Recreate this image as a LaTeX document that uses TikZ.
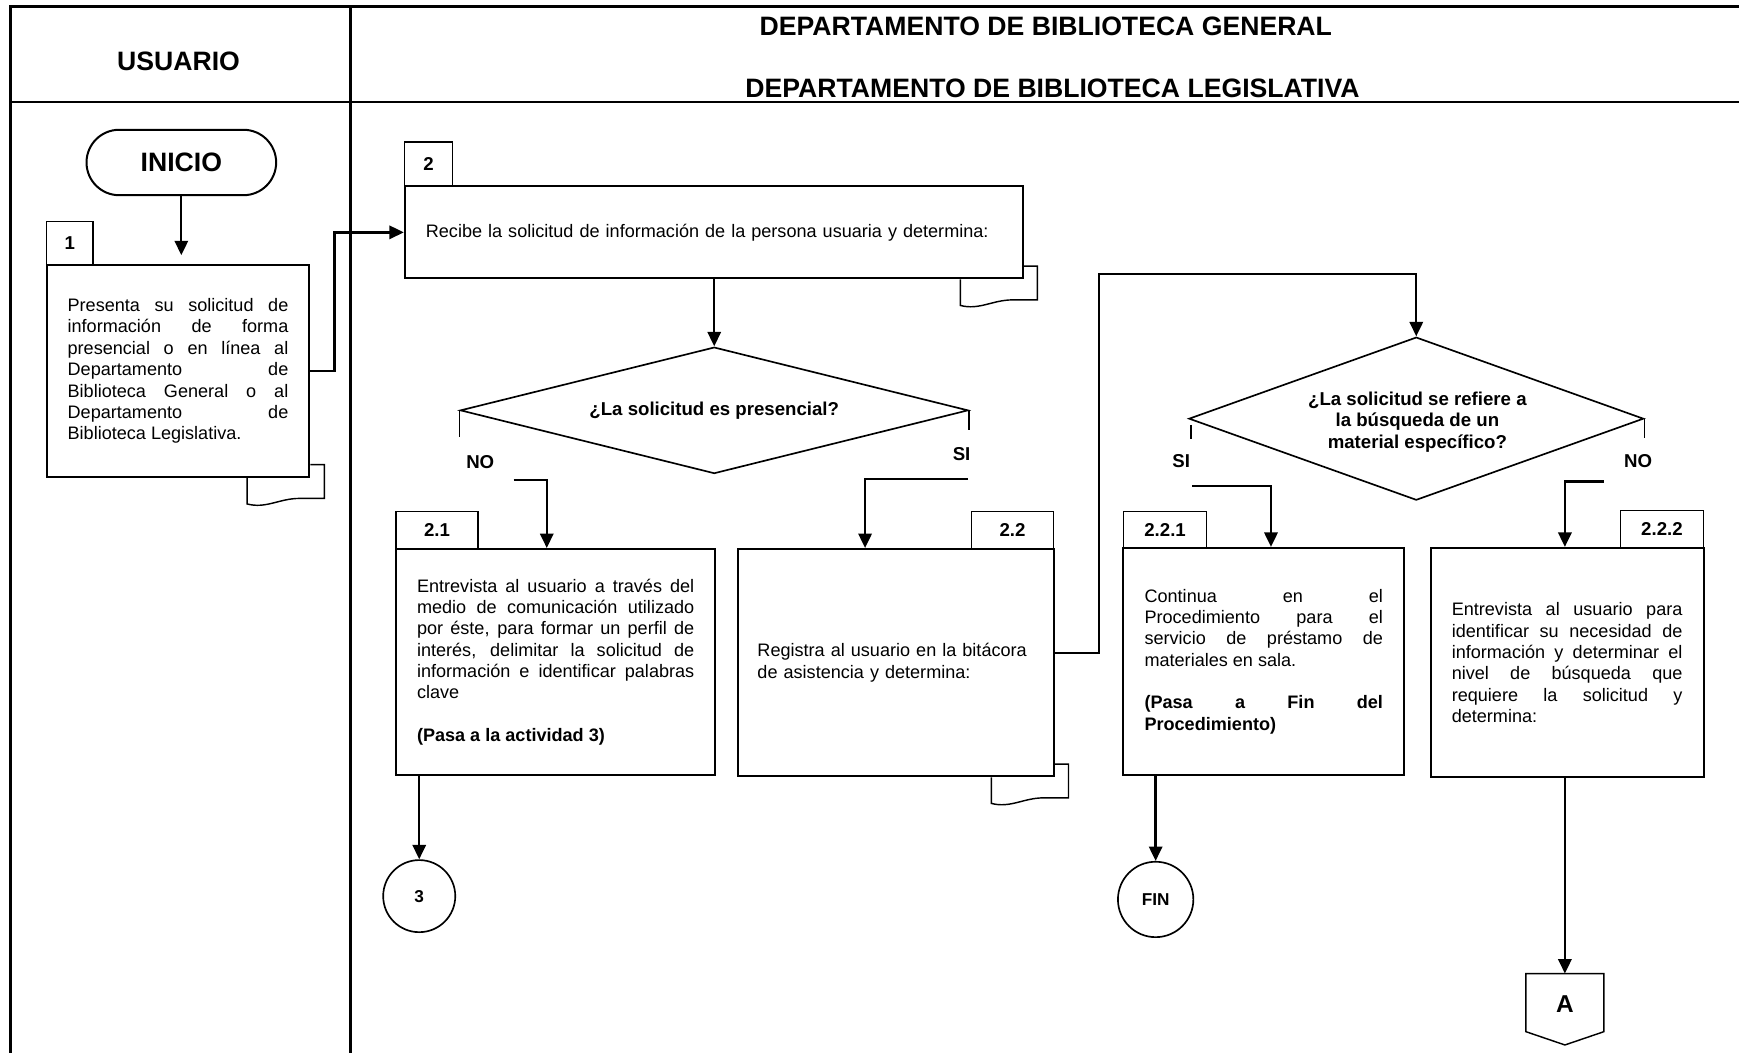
\documentclass[tikz,border=0pt]{standalone}
\usepackage{fontspec}
\setmainfont{Liberation Sans}
\usetikzlibrary{arrows.meta,shapes.geometric,shapes.misc,calc}
\setlength{\parindent}{0pt}
\newcommand\fbody{\fontsize{16.3}{19.25}\selectfont\tolerance=10000\hbadness=10000\hyphenpenalty=10000\exhyphenpenalty=10000}
\newcommand\fbodyb{\fontsize{16.8}{19.25}\selectfont\bfseries}
\newcommand\fhead{\fontsize{24}{28}\selectfont\bfseries}
\newcommand\doctail[1]{%
  \draw[tailline] ($(#1.south east)+(0,-12)$) -- ($(#1.south east)+(12.5,-12)$)
    -- ($(#1.south east)+(12.5,18.5)$) -- ($(#1.south east)+(-10,18.5)$)
    .. controls ($(#1.south east)+(-28,18.5)$) and ($(#1.south east)+(-40,28)$) .. ($(#1.south east)+(-57,23.5)$)
    -- ($(#1.south east)+(-57,0)$);}
\begin{document}
\begin{tikzpicture}[x=1pt,y=-1pt,
  border/.style={line width=2.6pt},
  box/.style={draw, line width=1.8pt, inner xsep=19pt, inner ysep=0pt, align=justify, font=\fbody},
  tabbox/.style={draw, line width=1.2pt, inner sep=0pt, font=\fbodyb},
  arr/.style={line width=2.1pt, -{Triangle[length=13pt,width=12pt]}},
  decision/.style={diamond, draw, line width=1.5pt, inner sep=0pt},
  tick/.style={line width=1.6pt},
  tailline/.style={line width=1.3pt},
  lbl/.style={font=\fbodyb, inner sep=0pt},
  conn/.style={circle, draw, line width=1.5pt, inner sep=0pt, font=\fontsize{15.5}{18}\selectfont\bfseries}]
\useasboundingbox (0,0) rectangle (1568,948.6);

% table frame
\draw[border] (9.5,952) -- (9.5,5.5) -- (1572,5.5);
\draw[border] (9.5,92) -- (1572,92);
\draw[border] (316,5.5) -- (316,952);

% headers
\node[font=\fhead] (hu) at (161,55) {USUARIO};
\node[font=\fhead] (hg) at (943,24) {DEPARTAMENTO DE BIBLIOTECA GENERAL};
\node[font=\fhead] (hl) at (949,79.5) {DEPARTAMENTO DE BIBLIOTECA LEGISLATIVA};

% start
\node[rounded rectangle, draw, line width=1.8pt, minimum width=171pt, minimum height=59pt, inner sep=0pt,
      font=\fontsize{24}{28}\selectfont\bfseries] (ini) at (163.5,146.5) {INICIO};

% tabs
\node[tabbox, minimum width=42pt, minimum height=39pt] (t1) at (63,219.5) {1};
\node[tabbox, minimum width=43pt, minimum height=40pt] (t2) at (386.5,148) {2};
\node[tabbox, minimum width=74pt, minimum height=34pt] (t21) at (394,478) {2.1};
\node[tabbox, minimum width=74pt, minimum height=34pt] (t22) at (913,478) {2.2};
\node[tabbox, minimum width=75pt, minimum height=33pt] (t221) at (1050.5,477.5) {2.2.1};
\node[tabbox, minimum width=75pt, minimum height=34pt] (t222) at (1498.5,477) {2.2.2};

% activity boxes
\node[box, text width=199pt, minimum height=191pt] (b1) at (160.5,334.5)
  {Presenta su solicitud de\linebreak información de forma\linebreak presencial o en línea al\linebreak Departamento de\linebreak Biblioteca General o al\linebreak Departamento de\linebreak Biblioteca Legislativa.};
\node[box, align=left, text width=519pt, minimum height=83pt] (b2) at (643.5,209.5)
  {Recibe la solicitud de información de la persona usuaria y determina:};
\node[box, text width=250pt, minimum height=204pt] (b21) at (501,597)
  {Entrevista al usuario a través del\linebreak medio de comunicación utilizado\linebreak por éste, para formar un perfil de\linebreak interés, delimitar la solicitud de\linebreak información e identificar palabras\linebreak clave\par\vspace{19.25pt}\textbf{(Pasa a la actividad 3)}};
\node[box, align=left, inner xsep=18pt, text width=249pt, minimum height=205pt] (b22) at (807.5,597.5)
  {Registra al usuario en la bitácora\\de asistencia y determina:};
\node[box, text width=215pt, minimum height=205pt] (b221) at (1139.5,596.5)
  {Continua en el\linebreak Procedimiento para el\linebreak servicio de préstamo de\linebreak materiales en sala.\par\vspace{19.25pt}\textbf{(Pasa a Fin del\linebreak Procedimiento)}};
\node[box, text width=208pt, minimum height=207pt] (b222) at (1413,597.5)
  {Entrevista al usuario para\linebreak identificar su necesidad de\linebreak información y determinar el\linebreak nivel de búsqueda que\linebreak requiere la solicitud y\linebreak determina:};

% document marks
\doctail{b1}
\doctail{b2}
\doctail{b22}

% decisions
\node[decision, minimum width=458pt, minimum height=114pt] (d1) at (644,370) {};
\node[font=\fbodyb] (d1t) at (d1.center) {¿La solicitud es presencial?};
\node[decision, minimum width=410pt, minimum height=147pt] (d2) at (1277,377.5) {};
\node[font=\fbodyb, align=center, inner sep=0pt] (d2t) at (1278,380.5)
  {\fontsize{16.8}{18.5}\selectfont ¿La solicitud se refiere a\\la búsqueda de un\\material específico?};

% ticks and branch labels
\draw[tick] (d1.west) -- ++(0,24);
\draw[tick] (d1.east) -- ++(0,18);
\coordinate (d2lt) at (1074,383);
\draw[tick] (d2lt) -- ++(0,13);
\draw[tick] (d2.east) -- ++(0,17);
\node[lbl] (no1) at (433,417) {NO};
\node[lbl] (si1) at (867,409) {SI};
\node[lbl] (si2) at (1065,416) {SI};
\node[lbl] (no2) at (1477,416) {NO};

% connectors / terminals
\node[conn, minimum size=65pt] (c3) at (378,808) {3};
\node[conn, minimum size=68pt] (fin) at (1042,811) {FIN};
\node[inner sep=0pt, minimum width=70pt, minimum height=64pt] (offA) at (1411,910) {};
\draw[line width=1.3pt] (offA.north west) -- (offA.north east) -- ($(offA.south east)+(0,-12)$)
  -- (offA.south) -- ($(offA.south west)+(0,-12)$) -- cycle;
\node[font=\fontsize{22}{26}\selectfont\bfseries] (offAt) at (1411,905) {A};

% arrows
\draw[arr, shorten >=8pt] (ini.south) -- (ini.south |- b1.north);
\draw[arr] (b1.east) -- ++(21.6,0) |- (b2.west);
\draw[arr] (b2.south -| d1.north) -- (d1.north);
\coordinate (no1s) at (463,433); \coordinate (no1k) at (493,433);
\draw[arr] (no1s) -- (no1k) -- (no1k |- b21.north);
\coordinate (si1s) at (873,432); \coordinate (si1k) at (780,432);
\draw[arr] (si1s) -- (si1k) -- (si1k |- b22.north);
\coordinate (si2s) at (1075,438); \coordinate (si2k) at (1146,438);
\draw[arr] (si2s) -- (si2k) -- (si2k |- b221.north);
\coordinate (no2s) at (1446,434); \coordinate (no2k) at (1411,434);
\draw[arr] (no2s) -- (no2k) -- (no2k |- b222.north);
\coordinate (y589) at (0,589);
\coordinate (loop) at (991,247);
\draw[arr] (b22.east |- y589) -| (loop) -| (d2.north);
\draw[arr] (c3 |- b21.south) -- (c3.north);
\draw[arr] (fin |- b221.south) -- (fin.north);
\draw[arr] (offA |- b222.south) -- (offA.north);
\end{tikzpicture}
\end{document}
